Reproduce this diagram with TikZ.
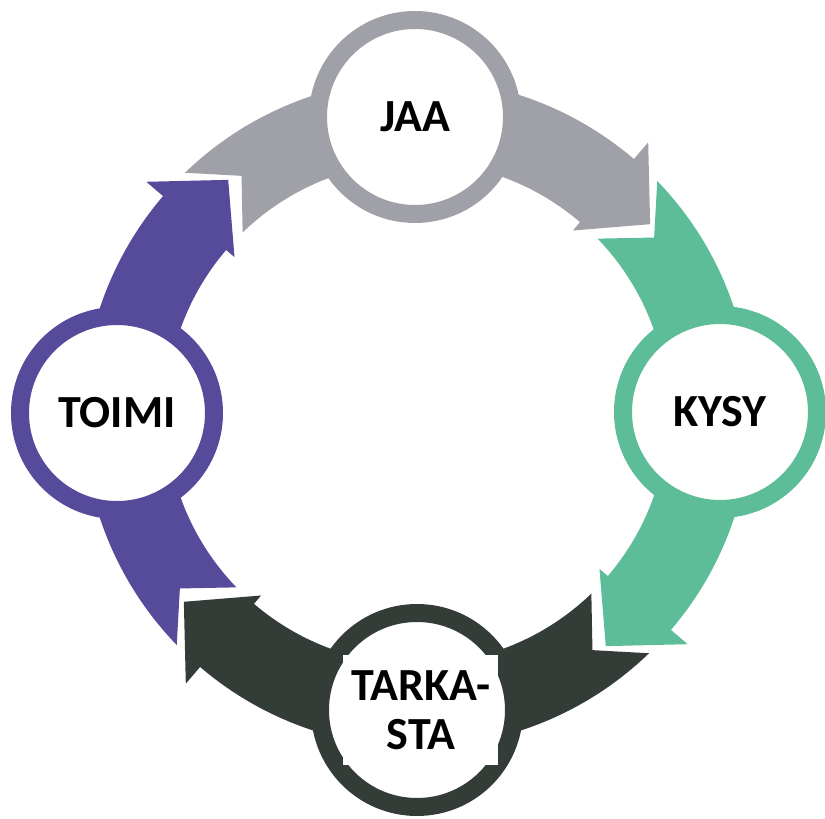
\documentclass[tikz,border=0pt]{standalone}
\usepackage{fontspec}
\setmainfont{Carlito}
\usetikzlibrary{positioning, calc}

\definecolor{jaagray}{RGB}{160,161,168}
\definecolor{kysygreen}{RGB}{92,189,152}
\definecolor{tarkdark}{RGB}{52,60,56}
\definecolor{toimipurple}{RGB}{86,74,154}

\begin{document}
\begin{tikzpicture}[x=1pt, y=1pt,
    stage/.style={circle, fill=white, line width=18pt, minimum size=194pt, inner sep=0pt,
      font=\bfseries\fontsize{46}{49}\selectfont, align=center}]
        \useasboundingbox (-417,-406) rectangle (408,413);
        \coordinate (c) at (0,0);

        % curved arrows, clockwise
        \foreach \col/\rot in {jaagray/0, kysygreen/-90, tarkdark/-180, toimipurple/-270}
          \fill[\col] ($(c)+(\rot+134:334)$) arc[start angle=\rot+134, end angle=\rot+49.5, radius=334pt]
            -- ($(c)+(\rot+49.5:356)$) -- ($(c)+(\rot+39:300)$) -- ($(c)+(\rot+49.5:240)$)
            -- ($(c)+(\rot+49.5:251)$) arc[start angle=\rot+49.5, end angle=\rot+134, radius=251pt]
            -- ($(c)+(\rot+126.5:295)$) -- cycle;

        \node[stage, draw=jaagray] (jaa) at ($(c)+(-2,296)$) {JAA};
        \node[stage, draw=kysygreen] (kysy) at ($(c)+(303,1)$) {KYSY};
        \node[stage, draw=tarkdark] (tarka) at ($(c)+(0,-297)$) {};
        \node[stage, draw=toimipurple] (toimi) at ($(c)+(-300,0)$) {TOIMI};
        \node[fill=white, minimum width=155pt, minimum height=110pt, inner sep=0pt, align=center,
          font=\bfseries\fontsize{46}{49}\selectfont] (tarkatext) at ($(tarka)+(4,0)$) {TARKA-\\STA};
      \end{tikzpicture}
\end{document}
